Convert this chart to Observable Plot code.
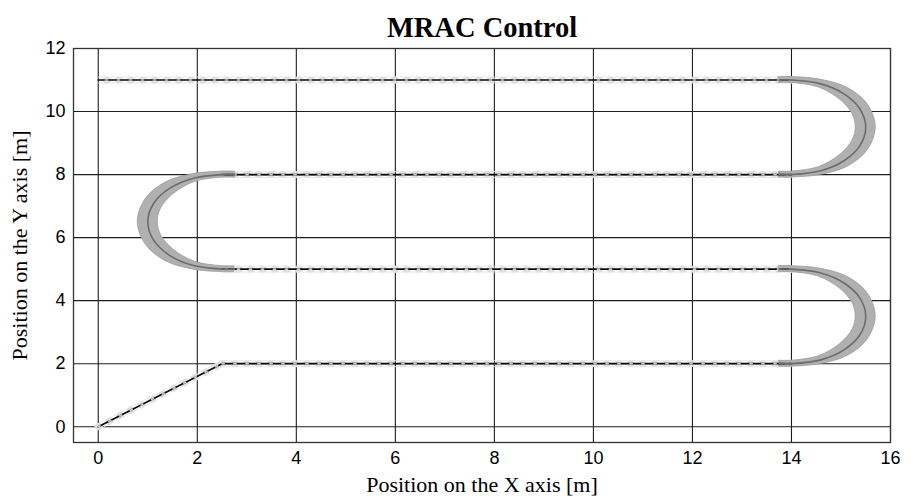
<!DOCTYPE html>
<html>
<head>
<meta charset="utf-8">
<script src="https://cdn.jsdelivr.net/npm/d3@7"></script>
<script src="https://cdn.jsdelivr.net/npm/@observablehq/plot@0.6"></script>
<style>
  html, body { margin: 0; padding: 0; background: #fff; }
</style>
</head>
<body>
<div id="chart"></div>
<script>
// ---- data ----
const titleText = "MRAC Control";
const xLabel = "Position on the X axis [m]";
const yLabel = "Position on the Y axis [m]";
const xTicks = [0, 2, 4, 6, 8, 10, 12, 14, 16];
const yTicks = [0, 2, 4, 6, 8, 10, 12];

// straight legs of the robot path
const legX = [[0, 2.5], [2.5, 14], [14, 2.5], [2.5, 14], [14, 0]];
const legY = [[0, 2], [2, 2], [5, 5], [8, 8], [11, 11]];

// U-turns: centres and direction (1 = bulge to the right, -1 = to the left)
const turnCX = [14, 2.5, 14];
const turnCY = [3.5, 6.5, 9.5];
const turnDir = [1, -1, 1];

// points of a turn, relative to its centre
const pathDX  = [-0.25, 0, 0.574, 1.061, 1.386, 1.5, 1.386, 1.061, 0.574, 0, -0.25];
const pathDY  = [1.5, 1.5, 1.386, 1.061, 0.574, 0, -0.574, -1.061, -1.386, -1.5, -1.5];
// outer / inner edge of the grey robot-footprint band
const outerDX = [-0.25, 0, 0.595, 1.137, 1.538, 1.702, 1.538, 1.137, 0.595, 0, -0.25];
const outerDY = [1.595, 1.595, 1.509, 1.248, 0.730, 0, -0.730, -1.248, -1.509, -1.595, -1.595];
const innerDX = [-0.25, 0, 0.553, 0.985, 1.234, 1.298, 1.234, 0.985, 0.553, 0, -0.25];
const innerDY = [1.405, 1.405, 1.264, 0.874, 0.418, 0, -0.418, -0.874, -1.264, -1.405, -1.405];

// ---- tables built from the arrays ----
const legRows = legX.flatMap((xs, i) => xs.map((x, j) => ({leg: i, x, y: legY[i][j]})));
const turnRows = turnCX.flatMap((cx, t) => pathDX.map((_, k) => ({
  turn: t,
  x: cx + turnDir[t] * pathDX[k], y: turnCY[t] + pathDY[k],
  ox: cx + turnDir[t] * outerDX[k], oy: turnCY[t] + outerDY[k],
  ix: cx + turnDir[t] * innerDX[k], iy: turnCY[t] + innerDY[k]
})));

const serif = "'Liberation Serif', 'Times New Roman', Times, serif";

const chart = Plot.plot({
  width: 911,
  height: 498,
  marginTop: 48,
  marginBottom: 56,
  marginLeft: 73,
  marginRight: 21,
  style: {fontFamily: "'Liberation Sans', Arial, Helvetica, sans-serif", fontSize: "18px", background: "#fff", color: "#000", overflow: "visible"},
  x: {domain: [-0.5, 16]},
  y: {domain: [-0.5, 12]},
  marks: [
    Plot.gridX(xTicks, {stroke: "#1e1e1e", strokeOpacity: 1, strokeWidth: 1.1}),
    Plot.gridY(yTicks, {stroke: "#1e1e1e", strokeOpacity: 1, strokeWidth: 1.1}),
    Plot.frame({stroke: "#333", strokeWidth: 1.3}),
    Plot.axisX(xTicks, {tickSize: 0, tickPadding: 9, label: null, fontSize: 18}),
    Plot.axisY(yTicks, {tickSize: 0, tickPadding: 8, label: null, fontSize: 18}),

    // faint footprint markers on straight legs
    Plot.line(legRows, {x: "x", y: "y", z: "leg", stroke: "#e0e0e0", strokeWidth: 7, strokeDasharray: "1 11"}),
    Plot.line(legRows, {x: "x", y: "y", z: "leg", stroke: "#e2e2e2", strokeWidth: 0.8, dy: -3, strokeDasharray: "9 3"}),
    Plot.line(legRows, {x: "x", y: "y", z: "leg", stroke: "#e2e2e2", strokeWidth: 0.8, dy: 3, strokeDasharray: "9 3"}),

    // grey footprint band on the turns
    Plot.area(turnRows, {x1: "ix", y1: "iy", x2: "ox", y2: "oy", z: "turn", fill: "#b0b0b0", stroke: "#9c9c9c", strokeWidth: 0.8, curve: "catmull-rom"}),

    // path
    Plot.line(legRows, {x: "x", y: "y", z: "leg", stroke: "#0a0a0a", strokeWidth: 1.7}),
    Plot.line(legRows, {x: "x", y: "y", z: "leg", stroke: "#c4c4c4", strokeWidth: 1.7, strokeDasharray: "2 10"}),
    Plot.line(turnRows, {x: "x", y: "y", z: "turn", stroke: "#6c6c6c", strokeWidth: 1.6, curve: "catmull-rom"}),

    // texts
    Plot.text([titleText], {text: d => d, frameAnchor: "top", lineAnchor: "middle", dy: -21, fontFamily: serif, fontWeight: "bold", fontSize: 28.5, fill: "#000"}),
    Plot.text([xLabel], {text: d => d, frameAnchor: "bottom", lineAnchor: "middle", dy: 42, fontFamily: serif, fontSize: 22, fill: "#000"}),
    Plot.text([yLabel], {text: d => d, frameAnchor: "left", lineAnchor: "middle", textAnchor: "middle", dx: -54, rotate: -90, fontFamily: serif, fontSize: 22, fill: "#000"})
  ]
});
document.getElementById("chart").appendChild(chart);
</script>
</body>
</html>
